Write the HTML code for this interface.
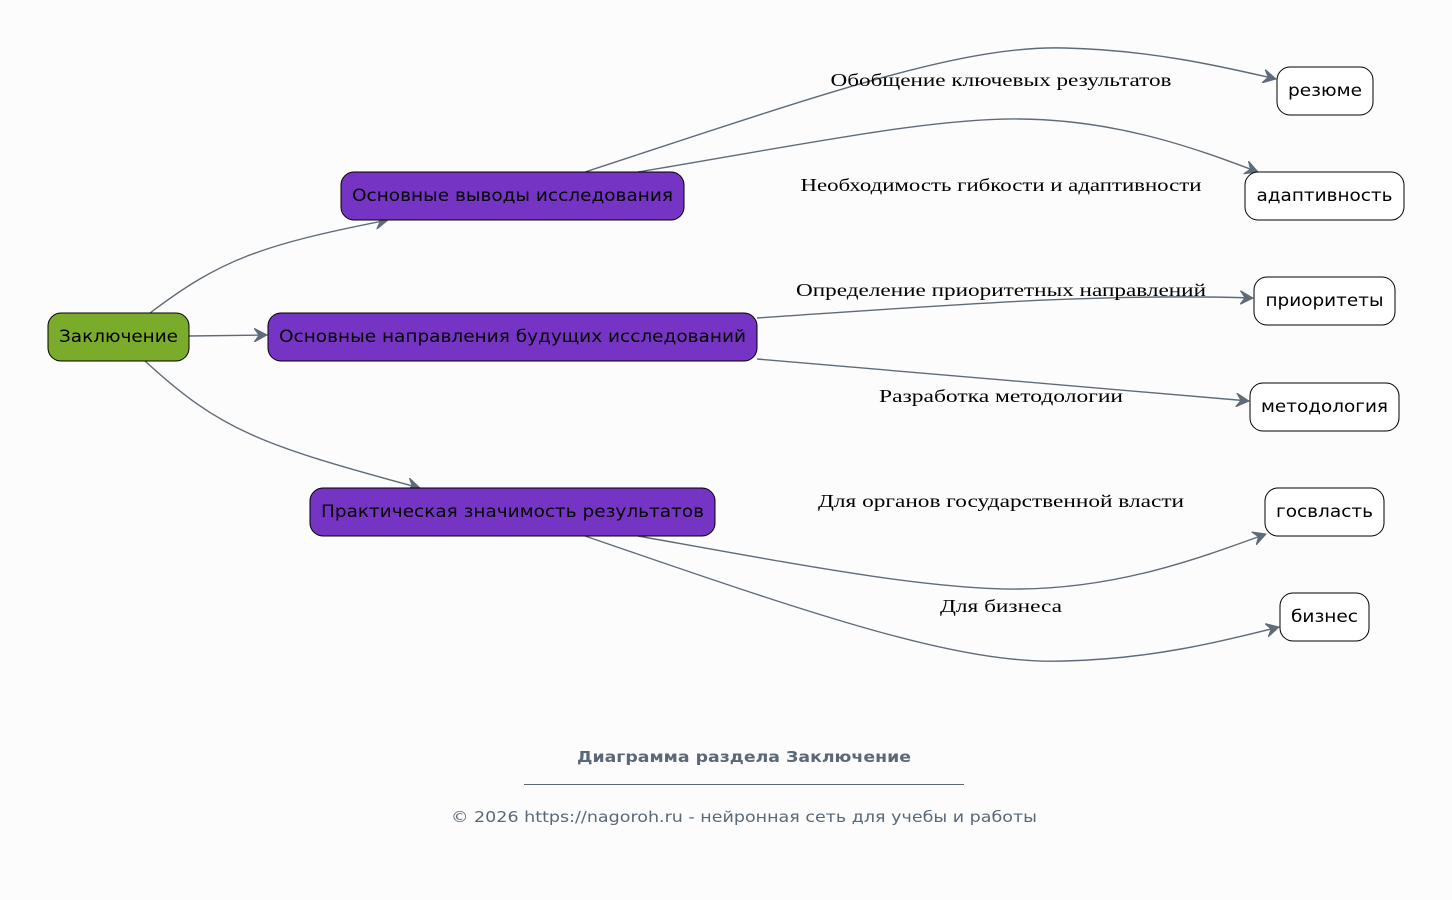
<!DOCTYPE html>
<html><head><meta charset="utf-8"><style>
html,body{margin:0;padding:0;background:#fcfcfc;}
svg{display:block}
.n{font-family:"DejaVu Sans","Liberation Sans",sans-serif;font-size:17px;fill:#000}
.l{font-family:"Liberation Serif","DejaVu Serif",serif;font-size:18px;fill:#000}
.e{fill:none;stroke:#5f6b78;stroke-width:1.4}
</style></head><body>
<svg width="1452" height="900" viewBox="0 0 1452 900" xmlns="http://www.w3.org/2000/svg">
<defs><marker id="a" markerWidth="16" markerHeight="14" refX="13" refY="7" orient="auto" markerUnits="userSpaceOnUse"><path d="M0,0 L13,7 L0,14 L5,7 Z" fill="#5f6b78" stroke="#5f6b78" stroke-width="1" stroke-linejoin="round"/></marker></defs>
<rect width="1452" height="900" fill="#fcfcfc"/>
<path class="e" marker-end="url(#a)" d="M150,313 C220,260 260,245 388,220"/>
<path class="e" marker-end="url(#a)" d="M189,336 L267,335"/>
<path class="e" marker-end="url(#a)" d="M145,361 C220,430 260,445 420,488"/>
<path class="e" marker-end="url(#a)" d="M585,172 C820,95 960,45 1065,48 C1150,50 1220,66 1276,79"/>
<path class="e" marker-end="url(#a)" d="M638,172 C800,145 930,118 1020,119 C1120,120 1200,150 1258,172"/>
<path class="e" marker-end="url(#a)" d="M757,318 C950,305 1100,293 1253,298"/>
<path class="e" marker-end="url(#a)" d="M757,359 L1249,401"/>
<path class="e" marker-end="url(#a)" d="M638,536 C800,565 930,590 1020,589 C1120,588 1200,558 1266,534"/>
<path class="e" marker-end="url(#a)" d="M585,536 C820,617 960,665 1065,661 C1150,659 1220,642 1279,627"/>
<g stroke="#000" stroke-width="1">
<rect x="48" y="313" width="141" height="48" rx="13" fill="#7aab2b"/>
<rect x="341" y="172" width="343" height="48" rx="13" fill="#7634c4"/>
<rect x="268" y="313" width="489" height="48" rx="13" fill="#7634c4"/>
<rect x="310" y="488" width="405" height="48" rx="13" fill="#7634c4"/>
<rect x="1277" y="67" width="96" height="48" rx="13" fill="#fff"/>
<rect x="1245" y="172" width="159" height="48" rx="13" fill="#fff"/>
<rect x="1254" y="277" width="141" height="48" rx="13" fill="#fff"/>
<rect x="1250" y="383" width="149" height="48" rx="13" fill="#fff"/>
<rect x="1265" y="488" width="119" height="48" rx="13" fill="#fff"/>
<rect x="1280" y="593" width="89" height="48" rx="13" fill="#fff"/>
</g>
<g class="n" text-anchor="middle">
<text x="118.5" y="342" textLength="119" lengthAdjust="spacingAndGlyphs">Заключение</text>
<text x="512.5" y="201" textLength="321" lengthAdjust="spacingAndGlyphs">Основные выводы исследования</text>
<text x="512.5" y="342" textLength="467" lengthAdjust="spacingAndGlyphs">Основные направления будущих исследований</text>
<text x="512.5" y="517" textLength="383" lengthAdjust="spacingAndGlyphs">Практическая значимость результатов</text>
<text x="1325" y="96" textLength="74" lengthAdjust="spacingAndGlyphs">резюме</text>
<text x="1324.5" y="201" textLength="136" lengthAdjust="spacingAndGlyphs">адаптивность</text>
<text x="1324.5" y="306" textLength="118" lengthAdjust="spacingAndGlyphs">приоритеты</text>
<text x="1324.5" y="412" textLength="127" lengthAdjust="spacingAndGlyphs">методология</text>
<text x="1324.5" y="517" textLength="97" lengthAdjust="spacingAndGlyphs">госвласть</text>
<text x="1324.5" y="622" textLength="67" lengthAdjust="spacingAndGlyphs">бизнес</text>
</g>
<g class="l" text-anchor="middle">
<text x="1001" y="86" textLength="341" lengthAdjust="spacingAndGlyphs">Обобщение ключевых результатов</text>
<text x="1001" y="191" textLength="401" lengthAdjust="spacingAndGlyphs">Необходимость гибкости и адаптивности</text>
<text x="1001" y="296" textLength="410" lengthAdjust="spacingAndGlyphs">Определение приоритетных направлений</text>
<text x="1001" y="402" textLength="244" lengthAdjust="spacingAndGlyphs">Разработка методологии</text>
<text x="1001" y="507" textLength="366" lengthAdjust="spacingAndGlyphs">Для органов государственной власти</text>
<text x="1001" y="612" textLength="122" lengthAdjust="spacingAndGlyphs">Для бизнеса</text>
</g>
<g font-family="DejaVu Sans, Liberation Sans, sans-serif" fill="#5a6878" text-anchor="middle">
<text x="744" y="762" font-size="15" font-weight="bold" textLength="334" lengthAdjust="spacingAndGlyphs">Диаграмма раздела Заключение</text>
<line x1="524" y1="784.5" x2="964" y2="784.5" stroke="#5a6878" stroke-width="1"/>
<text x="744" y="822" font-size="15" textLength="586" lengthAdjust="spacingAndGlyphs">© 2026 https://nagoroh.ru - нейронная сеть для учебы и работы</text>
</g>
</svg>
</body></html>
